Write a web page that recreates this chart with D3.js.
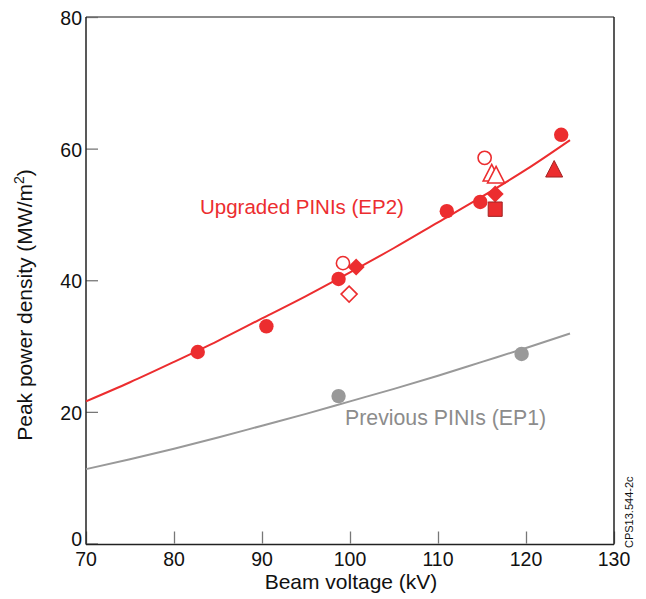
<!DOCTYPE html>
<html><head><meta charset="utf-8">
<script src="https://cdn.jsdelivr.net/npm/d3@7"></script>
<style>body{margin:0;background:#fff}svg{display:block;font-family:"Liberation Sans",Arial,sans-serif}</style>
</head><body><svg id="c" width="646" height="599"></svg>
<script>
// Data
const xTicks = [70, 80, 90, 100, 110, 120, 130];
const yTicks = [0, 20, 40, 60, 80];
const curveVoltage = [70, 75, 80, 85, 90, 95, 100, 105, 110, 115, 120, 125];
const upgradedCurve = [21.6, 24.5, 27.6, 30.8, 34.2, 37.6, 41.2, 44.9, 48.8, 52.7, 56.8, 61.3];
const previousCurve = [11.3, 12.8, 14.4, 16.1, 17.9, 19.7, 21.6, 23.5, 25.5, 27.6, 29.7, 31.9];
const previousV = [98.7, 119.5];
const previousP = [22.4, 28.8];
const upgradedV = [99.2, 115.3, 99.9, 116.1, 116.6, 82.7, 90.5, 98.7, 111.0, 114.8, 124.0, 100.7, 116.5, 116.5, 123.2];
const upgradedP = [42.6, 58.6, 37.9, 56.3, 56.0, 29.1, 33.0, 40.2, 50.5, 51.9, 62.1, 42.0, 53.1, 50.8, 56.9];
const upgradedShape = ["circle","circle","diamond","triangle","triangle","circle","circle","circle","circle","circle","circle","diamond","diamond","square","triangle"];
const upgradedFilled = [false,false,false,false,false,true,true,true,true,true,true,true,true,true,true];

const RED = "#ec2d2f", GRAY = "#999999";
const svg = d3.select("#c");
const x = d3.scaleLinear().domain([70, 130]).range([86, 614]);
const y = d3.scaleLinear().domain([0, 80]).range([543.5, 17]);

// axes (inward ticks)
svg.append("g").attr("transform", `translate(0,${y(0)})`)
  .call(d3.axisBottom(x).tickValues(xTicks).tickSize(-12).tickFormat(""))
  .call(g => { g.select(".domain").remove(); g.selectAll(".tick line").attr("stroke", "#777").attr("stroke-width", 1.3); });
svg.append("g").attr("transform", `translate(${x(70)},0)`)
  .call(d3.axisLeft(y).tickValues(yTicks).tickSize(-12).tickFormat(""))
  .call(g => { g.select(".domain").remove(); g.selectAll(".tick line").attr("stroke", "#777").attr("stroke-width", 1.3); });

// tick labels
svg.append("g").selectAll("text").data(xTicks).join("text")
  .attr("x", d => x(d)).attr("y", 566).attr("text-anchor", "middle")
  .attr("font-size", 19.5).attr("fill", "#111").text(d => d);
svg.append("g").selectAll("text").data(yTicks).join("text")
  .attr("x", 82).attr("y", d => d === 0 ? y(d) + 2 : y(d) + 8).attr("text-anchor", "end")
  .attr("font-size", 19.5).attr("fill", "#111").text(d => d);

// frame
svg.append("line").attr("x1", x(70)).attr("x2", x(130)).attr("y1", y(80)).attr("y2", y(80)).attr("stroke", "#666").attr("stroke-width", 1.5);
svg.append("line").attr("x1", x(130)).attr("x2", x(130)).attr("y1", y(80)).attr("y2", y(0) + 1).attr("stroke", "#222").attr("stroke-width", 1.5);
svg.append("line").attr("x1", x(70)).attr("x2", x(70)).attr("y1", y(80)).attr("y2", y(0) + 1).attr("stroke", "#222").attr("stroke-width", 1.5);
svg.append("line").attr("x1", x(70)).attr("x2", x(130)).attr("y1", y(0) + 1).attr("y2", y(0) + 1).attr("stroke", "#222").attr("stroke-width", 1.5);

// curves
const line = d3.line().x(d => x(d[0])).y(d => y(d[1])).curve(d3.curveMonotoneX);
svg.append("path").datum(curveVoltage.map((v, i) => [v, previousCurve[i]]))
  .attr("d", line).attr("fill", "none").attr("stroke", GRAY).attr("stroke-width", 2);
svg.append("path").datum(curveVoltage.map((v, i) => [v, upgradedCurve[i]]))
  .attr("d", line).attr("fill", "none").attr("stroke", RED).attr("stroke-width", 2);

// markers
function shapePath(s) {
  if (s === "circle") return d3.symbol(d3.symbolCircle, Math.PI * 7.2 * 7.2)();
  if (s === "diamond") return "M0,-8.5L8.5,0L0,8.5L-8.5,0Z";
  if (s === "square") return "M-7,-7.2H7V7.2H-7Z";
  if (s === "triangle") return "M0,-8.5L8.5,8L-8.5,8Z";
}
svg.append("g").selectAll("path").data(previousV.map((v, i) => [v, previousP[i]])).join("path")
  .attr("transform", d => `translate(${x(d[0])},${y(d[1])})`)
  .attr("d", shapePath("circle")).attr("fill", GRAY);

const pts = upgradedV.map((v, i) => ({v, p: upgradedP[i], s: upgradedShape[i], f: upgradedFilled[i]}));
svg.append("g").selectAll("path").data(pts).join("path")
  .attr("transform", d => `translate(${x(d.v)},${y(d.p)})`)
  .attr("d", d => d.f ? shapePath(d.s) : (d.s === "circle" ? d3.symbol(d3.symbolCircle, Math.PI * 6.6 * 6.6)() : d.s === "diamond" ? "M0,-8L8,0L0,8L-8,0Z" : shapePath(d.s)))
  .attr("fill", d => d.f ? RED : "#fff")
  .attr("stroke", d => d.f ? (d.s === "square" || d.s === "triangle" ? "#a02222" : "none") : RED)
  .attr("stroke-width", d => d.f ? 1 : 1.6);

// series labels
svg.append("text").attr("x", 200).attr("y", 214).attr("font-size", 20.5).attr("fill", RED).text("Upgraded PINIs (EP2)");
svg.append("text").attr("x", 345).attr("y", 425).attr("font-size", 21.3).attr("fill", "#8c8c8c").text("Previous PINIs (EP1)");

// axis titles
svg.append("text").attr("x", 351).attr("y", 589).attr("text-anchor", "middle").attr("font-size", 21).attr("fill", "#111").text("Beam voltage (kV)");
const yt = svg.append("text").attr("transform", "translate(32,305) rotate(-90)").attr("text-anchor", "middle").attr("font-size", 21).attr("fill", "#111");
yt.append("tspan").text("Peak power density (MW/m");
yt.append("tspan").attr("font-size", 14).attr("dy", -8).text("2");
yt.append("tspan").attr("dy", 8).text(")");

// figure code
svg.append("text").attr("transform", "translate(633,548) rotate(-90)").attr("font-size", 11).attr("fill", "#111").text("CPS13.544-2c");
</script></body></html>
